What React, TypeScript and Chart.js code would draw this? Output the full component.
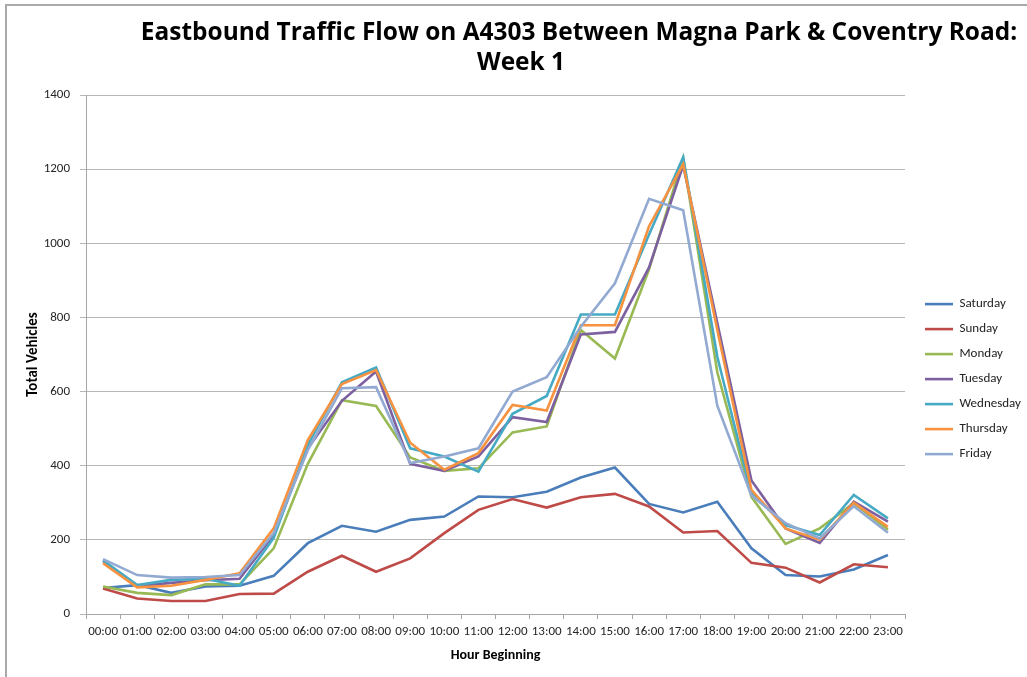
import React, { useEffect, useRef } from "react";
import { Chart, registerables } from "chart.js";

Chart.register(...registerables);

const hours = [
  "00:00", "01:00", "02:00", "03:00", "04:00", "05:00", "06:00", "07:00",
  "08:00", "09:00", "10:00", "11:00", "12:00", "13:00", "14:00", "15:00",
  "16:00", "17:00", "18:00", "19:00", "20:00", "21:00", "22:00", "23:00",
];

const saturday = [70, 78, 57, 74, 76, 103, 191, 238, 222, 254, 263, 317, 315, 330, 368, 395, 297, 274, 303, 177, 105, 101, 120, 159];
const sunday = [69, 42, 35, 35, 54, 55, 114, 157, 114, 150, 218, 281, 310, 287, 315, 324, 290, 220, 224, 138, 125, 85, 134, 126];
const monday = [74, 57, 51, 80, 80, 177, 405, 577, 561, 422, 386, 393, 490, 506, 766, 689, 930, 1230, 652, 316, 189, 231, 299, 227];
const tuesday = [143, 76, 84, 91, 95, 213, 447, 575, 654, 405, 386, 425, 531, 518, 754, 761, 935, 1210, 785, 360, 231, 192, 303, 249];
const wednesday = [145, 78, 92, 95, 76, 205, 456, 625, 665, 447, 425, 384, 540, 588, 808, 808, 1024, 1232, 694, 325, 240, 213, 321, 258];
const thursday = [137, 72, 76, 92, 110, 231, 469, 620, 658, 462, 389, 434, 564, 549, 779, 779, 1046, 1213, 766, 335, 231, 200, 300, 235];
const friday = [148, 105, 98, 100, 105, 218, 442, 609, 612, 407, 425, 447, 600, 639, 775, 892, 1120, 1089, 562, 320, 245, 204, 291, 219];

const seriesNames = ["Saturday", "Sunday", "Monday", "Tuesday", "Wednesday", "Thursday", "Friday"];
const seriesValues = [saturday, sunday, monday, tuesday, wednesday, thursday, friday];
const seriesColors = ["#4A7EBB", "#BE4B48", "#98B954", "#7D60A0", "#46AAC5", "#F69240", "#92AAD2"];

const titleLines = ["Eastbound Traffic Flow on A4303 Between Magna Park & Coventry Road:", "Week 1"];
const yTitle = "Total Vehicles";
const xTitle = "Hour Beginning";

const FONT = "Carlito, Calibri, Lato, sans-serif";
const TITLE_FONT = "'Open Sans', sans-serif";

const decorPlugin = {
  id: "decor",
  beforeDraw(chart: any) {
    const ctx = chart.ctx;
    ctx.save();
    ctx.fillStyle = "#ffffff";
    ctx.fillRect(0, 0, chart.width, chart.height);
    ctx.restore();
  },
  afterDraw(chart: any) {
    const ctx = chart.ctx;
    ctx.save();
    ctx.fillStyle = "#a9a9a9";
    ctx.fillRect(5, 4, 2, chart.height - 4);
    ctx.fillRect(5, 4, chart.width - 5, 2);
    ctx.fillStyle = "#000000";
    ctx.font = `bold 100px ${TITLE_FONT}`;
    const w100 = ctx.measureText(titleLines[0]).width;
    const size = Math.max(12, Math.min(26, (877 / w100) * 100));
    ctx.font = `bold ${size}px ${TITLE_FONT}`;
    ctx.textAlign = "center";
    ctx.textBaseline = "middle";
    ctx.fillText(titleLines[0], 579, 33);
    ctx.fillText(titleLines[1], 521, 63);
    ctx.restore();
  },
};

export default function App() {
  const ref = useRef<HTMLCanvasElement | null>(null);
  useEffect(() => {
    if (!ref.current) return;
    const chart = new Chart(ref.current, {
      type: "line",
      data: {
        labels: hours,
        datasets: seriesNames.map((name, i) => ({
          label: name,
          data: seriesValues[i],
          borderColor: seriesColors[i],
          backgroundColor: seriesColors[i],
          borderWidth: 2.6,
          pointRadius: 0,
          tension: 0,
          order: seriesNames.length - i,
        })),
      },
      options: {
        responsive: false,
        animation: false,
        layout: { padding: { top: 95, left: 0, right: 0, bottom: 0 } },
        plugins: {
          title: { display: false },
          tooltip: { enabled: false },
          legend: {
            position: "right",
            fullSize: false,
            maxWidth: 114,
            title: { display: true, text: " ", font: { size: 1 }, padding: { top: 0, bottom: 48 } },
            labels: {
              usePointStyle: true,
              pointStyle: "line",
              pointStyleWidth: 28,
              padding: 12,
              color: "#222222",
              font: { family: FONT, size: 13 },
              sort: (a: any, b: any) => a.datasetIndex - b.datasetIndex,
            },
          },
        },
        scales: {
          x: {
            type: "category",
            offset: true,
            grid: { display: true, drawOnChartArea: false, drawTicks: true, tickLength: 5, color: "#a6a6a6", offset: true },
            border: { display: true, color: "#a6a6a6" },
            ticks: { autoSkip: false, maxRotation: 0, minRotation: 0, padding: 5, color: "#262626", font: { family: FONT, size: 13 } },
            title: { display: true, text: xTitle, color: "#000000", font: { family: FONT, size: 14, weight: "bold" }, padding: { top: 0, bottom: 13 } },
            afterFit: (s: any) => { s.height = 63; },
          },
          y: {
            type: "linear",
            min: 0,
            max: 1400,
            ticks: { stepSize: 200, padding: 10, color: "#262626", font: { family: FONT, size: 13 }, callback: (v: any) => String(v) },
            grid: { color: "#b7b7b7", tickLength: 6, lineWidth: 1 },
            border: { display: true, color: "#a6a6a6" },
            title: { display: true, text: yTitle, color: "#000000", font: { family: FONT, size: 15, weight: "bold" }, padding: { top: 24, bottom: 0 } },
            afterFit: (s: any) => { s.width = 86; },
          },
          y2: {
            type: "linear",
            position: "right",
            display: true,
            grid: { display: false, drawTicks: false },
            ticks: { display: false },
            border: { display: false },
            afterFit: (s: any) => { s.width = 8; },
          },
        },
      },
      plugins: [decorPlugin],
    });
    return () => chart.destroy();
  }, []);
  return (
    <div style={{ position: "fixed", left: 0, top: 0, width: 1027, height: 677, background: "#fff" }}>
      <canvas ref={ref} width={1027} height={677} style={{ width: 1027, height: 677, display: "block" }} />
    </div>
  );
}
